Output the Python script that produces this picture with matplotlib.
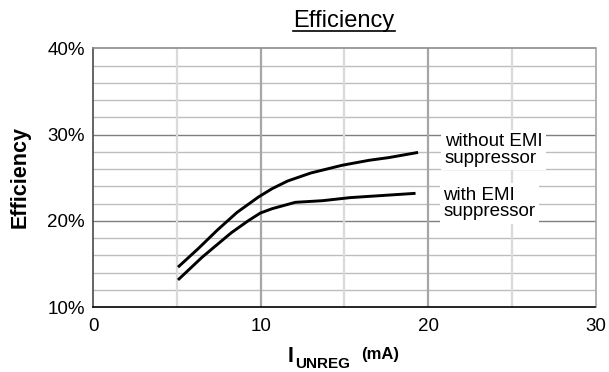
import matplotlib
matplotlib.use("Agg")
import matplotlib.pyplot as plt
from matplotlib.lines import Line2D

plt.rcParams["font.family"] = ["Liberation Sans", "DejaVu Sans"]

# ---------------------------------------------------------------------------
# Data
# ---------------------------------------------------------------------------
i_without = [5.06, 6.27, 7.43, 8.59, 9.87, 10.68, 11.61, 13.0, 14.86, 16.48, 17.65, 19.4]
eff_without = [14.65, 16.8, 18.98, 21.0, 22.78, 23.74, 24.63, 25.56, 26.45, 27.03, 27.34, 27.94]

i_with = [5.06, 6.5, 8.24, 9.29, 9.98, 10.68, 12.07, 13.7, 15.32, 16.48, 19.25]
eff_with = [13.17, 15.8, 18.63, 20.07, 20.92, 21.42, 22.16, 22.35, 22.7, 22.85, 23.2]

x_ticks = [0, 10, 20, 30]
x_light = [5, 15, 25]
y_ticks = [10, 20, 30, 40]
y_minor = [12, 14, 16, 18, 22, 24, 26, 28, 32, 34, 36, 38]
y_ticklabels = ["10%", "20%", "30%", "40%"]

W, H = 609, 372
fig = plt.figure(figsize=(W / 100, H / 100), dpi=100)
ax = fig.add_axes([93.3 / W, 1 - 307.3 / H, (595.5 - 93.3) / W, (307.3 - 48.3) / H])

ax.set_xlim(0, 30)
ax.set_ylim(10, 40)

# grid
for y in y_minor:
    ax.axhline(y, color="#bdbdbd", lw=1.0, zorder=1)
for y in y_ticks[1:-1]:
    ax.axhline(y, color="#7f7f7f", lw=1.0, zorder=1)
for x in x_light:
    ax.axvline(x, color="#dadada", lw=1.6, zorder=1)
for x in x_ticks[1:-1]:
    ax.axvline(x, color="#a6a6a6", lw=1.6, zorder=1)

ax.plot(i_without, eff_without, color="black", lw=2.1, zorder=3, solid_capstyle="butt")
ax.plot(i_with, eff_with, color="black", lw=2.1, zorder=3, solid_capstyle="butt")

# labels on white boxes
box = dict(facecolor="white", edgecolor="none", pad=2.5)
ax.text(21.0, 28.2, "without EMI\nsuppressor", fontsize=13.5, ha="left", va="center",
        linespacing=0.95, bbox=box, zorder=4)
ax.text(20.9, 22.05, "with EMI\nsuppressor", fontsize=13.5, ha="left", va="center",
        linespacing=0.95, bbox=box, zorder=4)

ax.set_xticks(x_ticks)
ax.set_yticks(y_ticks)
ax.set_yticklabels(y_ticklabels)
ax.tick_params(length=0, labelsize=13.5, colors="black")
ax.tick_params(axis="x", pad=8)
ax.tick_params(axis="y", pad=6)

ax.spines["left"].set_color("#4a4a4a")
ax.spines["bottom"].set_color("black")
ax.spines["top"].set_color("#8c8c8c")
ax.spines["right"].set_color("#a6a6a6")
for s in ax.spines.values():
    s.set_linewidth(1.2)

# y label
fig.text(20 / W, 1 - 176.5 / H, "Efficiency", rotation=90, ha="center", va="center",
         fontsize=15.5, fontweight="bold")

# x label: I_UNREG (mA)
fig.text(288 / W, 1 - 362 / H, "I", fontsize=15.5, fontweight="bold", va="baseline")
fig.text(295.5 / W, 1 - 368 / H, "UNREG", fontsize=11, fontweight="bold", va="baseline")
fig.text(361 / W, 1 - 359.5 / H, "(mA)", fontsize=12, fontweight="bold", va="baseline")

# title with underline
title = fig.text(344 / W, 1 - 27.5 / H, "Efficiency", fontsize=17, ha="center", va="baseline")
fig.canvas.draw()
bb = title.get_window_extent(renderer=fig.canvas.get_renderer())
uy = 1 - 31 / H
fig.add_artist(Line2D([bb.x0 / W, bb.x1 / W], [uy, uy], color="black", lw=1.2,
                      transform=fig.transFigure))

fig.savefig("out.png", dpi=100)
